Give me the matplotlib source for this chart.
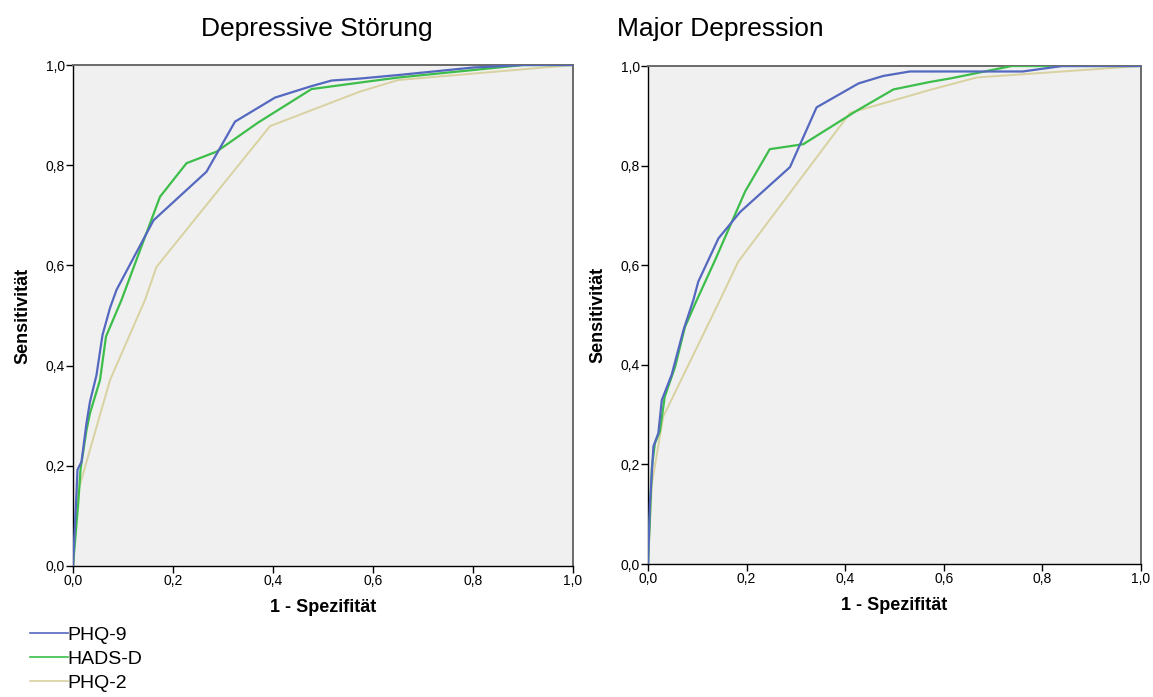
import matplotlib.pyplot as plt
from matplotlib.lines import Line2D

plt.rcParams['font.family'] = ['Liberation Sans', 'DejaVu Sans']

titles = ['Depressive Störung', 'Major Depression']
names = ['PHQ-9', 'HADS-D', 'PHQ-2']
colors = ['#5468c0', '#3dbd4a', '#d8d2a0']

# Depressive Störung
ds_phq9_x = [0.0, 0.007, 0.009, 0.017, 0.027, 0.034, 0.047, 0.059, 0.074, 0.087, 0.161, 0.267, 0.324,
             0.404, 0.474, 0.517, 0.574, 0.65, 0.8, 0.9, 1.0]
ds_phq9_y = [0.0, 0.145, 0.192, 0.208, 0.285, 0.328, 0.381, 0.461, 0.515, 0.551, 0.69, 0.787, 0.887,
             0.935, 0.957, 0.969, 0.973, 0.98, 0.995, 1.0, 1.0]
ds_hads_x = [0.0, 0.011, 0.015, 0.027, 0.034, 0.054, 0.066, 0.097, 0.174, 0.227, 0.287, 0.37, 0.477,
             0.574, 0.65, 0.9, 1.0]
ds_hads_y = [0.0, 0.132, 0.192, 0.271, 0.305, 0.371, 0.458, 0.531, 0.737, 0.804, 0.827, 0.885, 0.952,
             0.965, 0.975, 1.0, 1.0]
ds_phq2_x = [0.0, 0.009, 0.074, 0.144, 0.167, 0.394, 0.574, 0.65, 1.0]
ds_phq2_y = [0.0, 0.145, 0.371, 0.531, 0.597, 0.878, 0.947, 0.97, 1.0]

# Major Depression
md_phq9_x = [0.0, 0.004, 0.011, 0.021, 0.028, 0.048, 0.072, 0.092, 0.102, 0.143, 0.187, 0.288, 0.342,
             0.427, 0.477, 0.531, 0.76, 0.84, 1.0]
md_phq9_y = [0.0, 0.122, 0.236, 0.263, 0.329, 0.38, 0.47, 0.53, 0.567, 0.654, 0.707, 0.797, 0.917,
             0.965, 0.98, 0.989, 0.989, 1.0, 1.0]
md_hads_x = [0.0, 0.008, 0.014, 0.024, 0.034, 0.055, 0.075, 0.099, 0.136, 0.197, 0.247, 0.315, 0.423,
             0.498, 0.572, 0.613, 0.738, 1.0]
md_hads_y = [0.0, 0.195, 0.242, 0.266, 0.336, 0.396, 0.476, 0.53, 0.61, 0.748, 0.833, 0.843, 0.91,
             0.953, 0.968, 0.975, 1.0, 1.0]
md_phq2_x = [0.0, 0.008, 0.031, 0.146, 0.183, 0.41, 0.572, 0.667, 1.0]
md_phq2_y = [0.0, 0.162, 0.296, 0.53, 0.607, 0.906, 0.952, 0.977, 1.0]

panels = [
    [(ds_phq9_x, ds_phq9_y), (ds_hads_x, ds_hads_y), (ds_phq2_x, ds_phq2_y)],
    [(md_phq9_x, md_phq9_y), (md_hads_x, md_hads_y), (md_phq2_x, md_phq2_y)],
]

ticks = [0.0, 0.2, 0.4, 0.6, 0.8, 1.0]
ticklabels = ['0,0', '0,2', '0,4', '0,6', '0,8', '1,0']

fig = plt.figure(figsize=(11.53, 6.97), dpi=100)
rects = [[0.0633, 0.188, 0.4337, 0.7187], [0.562, 0.1908, 0.4276, 0.7145]]
title_x = [0.275, 0.6245]

for i in range(2):
    ax = fig.add_axes(rects[i])
    ax.set_facecolor('#f0f0f0')
    for j in range(3):
        xs, ys = panels[i][j]
        ax.plot(xs, ys, color=colors[j], lw=1.6 if j < 2 else 1.4, zorder=3 - j * 0.1)
    ax.set_xlim(0, 1)
    ax.set_ylim(0, 1)
    ax.set_xticks(ticks)
    ax.set_xticklabels(ticklabels)
    ax.set_yticks(ticks)
    ax.set_yticklabels(ticklabels)
    ax.tick_params(direction='out', length=5, width=1, labelsize=10, colors='black', pad=1)
    for s in ['left', 'bottom']:
        ax.spines[s].set_color('black')
        ax.spines[s].set_linewidth(1.0)
    for s in ['top', 'right']:
        ax.spines[s].set_color('#6a6a6a')
        ax.spines[s].set_linewidth(1.4)
    ax.set_xlabel('1 - Spezifität', fontsize=13, fontweight='bold', labelpad=8)
    ax.set_ylabel('Sensitivität', fontsize=13, fontweight='bold', labelpad=10)
    fig.text(title_x[i], 0.959, titles[i], ha='center', va='center', fontsize=19)

handles = [Line2D([], [], color=c, lw=1.2) for c in colors]
fig.legend(handles, names, loc='lower left', bbox_to_anchor=(0.014, -0.012), frameon=False,
           fontsize=14, handlelength=1.95, handletextpad=0.0, labelspacing=0.33,
           borderpad=0.2)

fig.savefig('out.png', dpi=100, facecolor='white')
